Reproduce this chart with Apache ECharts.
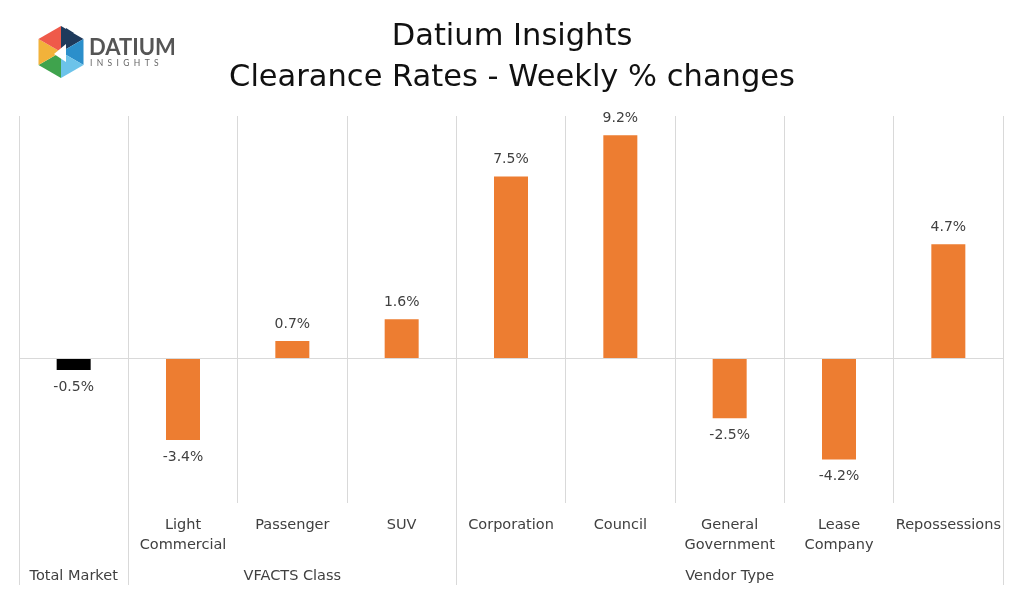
<!DOCTYPE html>
<html><head><meta charset="utf-8">
<script src="https://cdn.jsdelivr.net/npm/echarts@6/dist/echarts.min.js"></script>
<style>html,body{margin:0;padding:0;background:#fff}#c{width:1024px;height:594px}</style>
</head><body><div id="c"></div>
<script>
const categories = ['Total Market','Light\nCommercial','Passenger','SUV','Corporation','Council','General\nGovernment','Lease\nCompany','Repossessions'];
const values = [-0.5,-3.4,0.7,1.6,7.5,9.2,-2.5,-4.2,4.7];
const groups = ['Total Market','VFACTS Class','Vendor Type'];
const groupBounds = [0,1,4,9];
const groupCenters = [0.5,2.5,6.5];

const chart = echarts.init(document.getElementById('c'));
const FONT = '"DejaVu Sans", sans-serif';
const LFONT = 'Lato, "Noto Sans", sans-serif';
const hexC = [61,52], R = 26;
function hp(i){const a=Math.PI/180*(-90+60*i);return [hexC[0]+R*Math.cos(a),hexC[1]+R*Math.sin(a)];}
const hexColors = ['#1E3A5C','#2B8FCB','#6CC3EA','#3FA34D','#F2B23A','#EF5A4A'];
const logo = hexColors.map((col,i)=>({type:'polygon',shape:{points:[hexC,hp(i),hp(i+1)]},style:{fill:col},silent:true}));
logo.push({type:'polygon',shape:{points:[[54,54],[66,44],[66,62]]},style:{fill:'#fff'},silent:true});
logo.push({type:'polygon',shape:{points:[[66,28],[74,33],[66,36]]},style:{fill:'#1E3A5C'},silent:true});
logo.push({type:'text',left:89,top:37,style:{text:'DATIUM',fill:'#555',font:'bold 22px '+LFONT},silent:true});
logo.push({type:'text',left:90,top:59,style:{text:'I  N  S  I  G  H  T  S',fill:'#666',font:'8.5px '+LFONT},silent:true});

chart.setOption({
  backgroundColor:'#fff',
  animation:false,
  title:{text:'Datium Insights\nClearance Rates - Weekly % changes',left:'center',top:12,
    textStyle:{fontFamily:FONT,fontWeight:'normal',fontSize:30.5,color:'#111',lineHeight:41}},
  graphic:logo,
  grid:{left:19,right:21,top:116,bottom:91},
  xAxis:[{
    type:'category',data:categories,position:'bottom',
    axisLine:{show:false},axisTick:{show:false},
    splitLine:{show:true,interval:0,lineStyle:{color:'#d9d9d9',width:1}},
    axisLabel:{interval:0,margin:12,color:'#404040',fontFamily:FONT,fontSize:14.5,lineHeight:20,
      formatter:(v,i)=>i===0?'':v}
  },{
    type:'value',min:0,max:9,position:'bottom',
    axisLine:{show:false},splitLine:{show:false},
    axisTick:{show:true,customValues:groupBounds,length:82,lineStyle:{color:'#d9d9d9'}},
    axisLabel:{customValues:groupCenters,margin:66,color:'#404040',fontFamily:FONT,fontSize:14.5,
      formatter:v=>groups[groupCenters.indexOf(v)]}
  }],
  yAxis:{type:'value',min:-6,max:10,interval:2,show:false,splitLine:{show:false}},
  series:[{
    type:'bar',xAxisIndex:0,barWidth:34,
    data:values.map((v,i)=>({value:v,itemStyle:{color:i===0?'#000':'#ED7D31'}})),
    label:{show:true,position:'outside',formatter:p=>p.value.toFixed(1)+'%',color:'#404040',fontFamily:FONT,fontSize:14,distance:10},
    markLine:{silent:true,symbol:'none',label:{show:false},lineStyle:{color:'#d9d9d9',type:'solid',width:1},data:[{yAxis:0}]}
  }]
});
</script></body></html>
